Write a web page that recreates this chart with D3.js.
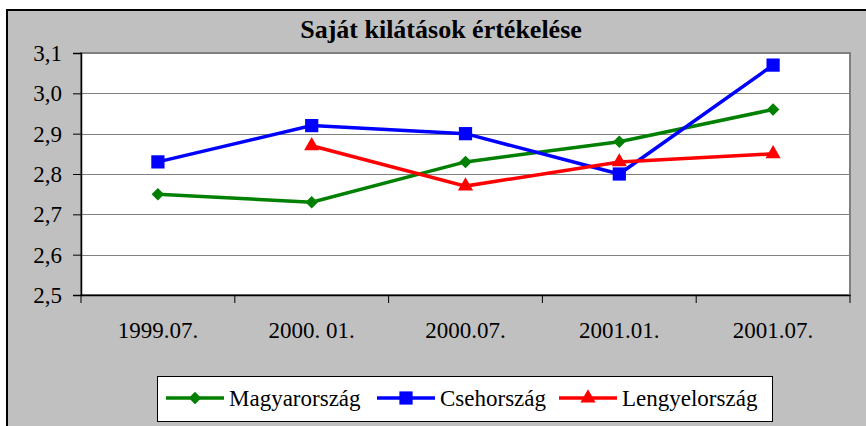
<!DOCTYPE html>
<html lang="en">
<head>
  <meta charset="utf-8">
  <title>Saját kilátások értékelése</title>
  <script src="https://d3js.org/d3.v7.min.js"></script>
  <style>
    body { margin: 0; background: #fff; }
    text { font-family: "Liberation Serif", "Times New Roman", serif; }
  </style>
</head>
<body>
<script>
  var periods = ["1999.07.", "2000. 01.", "2000.07.", "2001.01.", "2001.07."];
  var magyar = [2.75, 2.73, 2.83, 2.88, 2.96];
  var cseh = [2.83, 2.92, 2.90, 2.80, 3.07];
  var lengyel = [null, 2.87, 2.77, 2.83, 2.85];
  var yTicks = [2.5, 2.6, 2.7, 2.8, 2.9, 3.0, 3.1];

  var series = [
    {name: "Magyarország", values: magyar, color: "#008000", symbol: d3.symbolDiamond2, size: 100},
    {name: "Csehország", values: cseh, color: "#0000ff", symbol: d3.symbolSquare, size: 175},
    {name: "Lengyelország", values: lengyel, color: "#ff0000", symbol: d3.symbolTriangle, size: 100}
  ];

  var w = 866, h = 426;
  var plotL = 81, plotR = 850, plotT = 53, plotB = 295;

  var svg = d3.select("body").append("svg")
    .attr("width", w)
    .attr("height", h);

  // grey chart area with black frame
  svg.append("rect")
    .attr("x", 7).attr("y", 10)
    .attr("width", 880).attr("height", 440)
    .attr("fill", "#c0c0c0")
    .attr("stroke", "#000")
    .attr("stroke-width", 2);

  svg.append("text")
    .attr("x", 441).attr("y", 38)
    .attr("text-anchor", "middle")
    .attr("font-size", 26)
    .attr("font-weight", "bold")
    .text("Saját kilátások értékelése");

  var x = d3.scaleBand().domain(periods).range([plotL, plotR]).padding(0);
  var y = d3.scaleLinear().domain([2.5, 3.1]).range([plotB, plotT]);

  // plot area
  svg.append("rect")
    .attr("x", plotL).attr("y", plotT)
    .attr("width", plotR - plotL).attr("height", plotB - plotT)
    .attr("fill", "#fff")
    .attr("stroke", "#808080")
    .attr("stroke-width", 2);

  // gridlines
  svg.append("g").selectAll("line")
    .data(yTicks.slice(1, -1))
    .enter().append("line")
    .attr("x1", plotL).attr("x2", plotR)
    .attr("y1", function(d) { return Math.round(y(d)) + 0.5; })
    .attr("y2", function(d) { return Math.round(y(d)) + 0.5; })
    .attr("stroke", "#808080")
    .attr("stroke-width", 1);

  // y axis
  var yAxis = svg.append("g")
    .attr("transform", "translate(" + plotL + ",0)")
    .call(d3.axisLeft(y).tickValues(yTicks).tickSize(8).tickPadding(11)
      .tickFormat(function(d) { return d3.format(".1f")(d).replace(".", ","); }));
  yAxis.select(".domain").attr("stroke", "#000").attr("stroke-width", 1.5);
  yAxis.selectAll("text")
    .attr("font-size", 23)
    .attr("fill", "#000");

  // x axis
  var xAxis = svg.append("g")
    .attr("transform", "translate(0," + plotB + ")")
    .call(d3.axisBottom(x).tickSize(0).tickPadding(27));
  xAxis.select(".domain").attr("stroke", "#000").attr("stroke-width", 1.5);
  xAxis.selectAll("text")
    .attr("font-size", 23)
    .attr("fill", "#000");
  xAxis.selectAll(".band-tick")
    .data(d3.range(periods.length + 1))
    .enter().append("line")
    .attr("class", "band-tick")
    .attr("x1", function(i) { return plotL + i * x.bandwidth(); })
    .attr("x2", function(i) { return plotL + i * x.bandwidth(); })
    .attr("y1", 0).attr("y2", 8)
    .attr("stroke", "#000");

  var line = d3.line()
    .defined(function(d) { return d != null; })
    .x(function(d, i) { return x(periods[i]) + x.bandwidth() / 2; })
    .y(function(d) { return y(d); });

  series.forEach(function(s) {
    svg.append("path")
      .datum(s.values)
      .attr("fill", "none")
      .attr("stroke", s.color)
      .attr("stroke-width", 3.5)
      .attr("d", line);

    svg.append("g").selectAll("path")
      .data(s.values.map(function(v, i) { return {v: v, i: i}; }).filter(function(d) { return d.v != null; }))
      .enter().append("path")
      .attr("transform", function(d) {
        return "translate(" + (x(periods[d.i]) + x.bandwidth() / 2) + "," + y(d.v) + ")";
      })
      .attr("d", d3.symbol().type(s.symbol).size(s.size))
      .attr("fill", s.color);
  });

  // legend
  var legend = svg.append("g");
  legend.append("rect")
    .attr("x", 157.5).attr("y", 376.5)
    .attr("width", 615).attr("height", 45)
    .attr("fill", "#fff")
    .attr("stroke", "#000")
    .attr("stroke-width", 1);

  var legendX = [166, 377, 559];
  series.forEach(function(s, i) {
    var g = legend.append("g").attr("transform", "translate(" + legendX[i] + ",398)");
    g.append("line")
      .attr("x1", 0).attr("x2", 58)
      .attr("stroke", s.color)
      .attr("stroke-width", 3.5);
    g.append("path")
      .attr("transform", "translate(29,0)")
      .attr("d", d3.symbol().type(s.symbol).size(s.size))
      .attr("fill", s.color);
    g.append("text")
      .attr("x", 63).attr("y", 8)
      .attr("font-size", 23)
      .text(s.name);
  });
</script>
</body>
</html>
